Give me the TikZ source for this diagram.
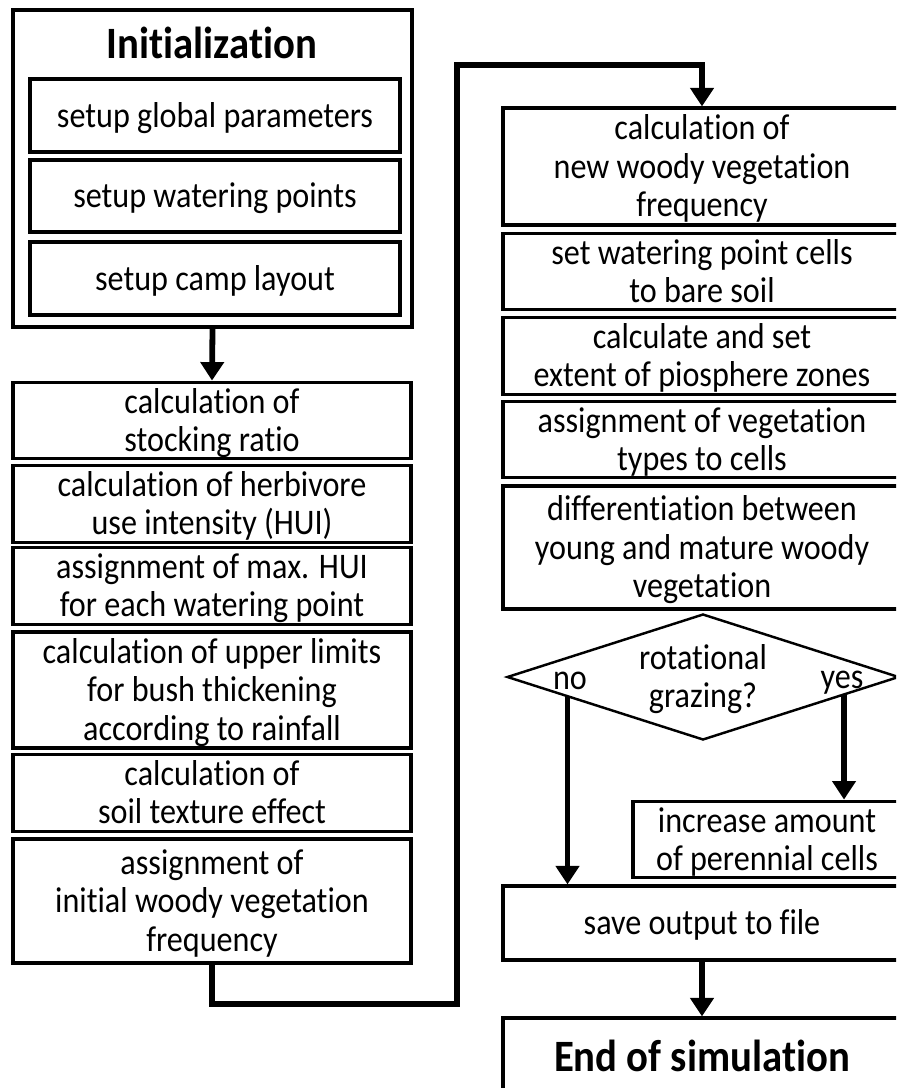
\documentclass[tikz,border=0pt]{standalone}
\usepackage{fontspec}
\usepackage{graphicx}
\setmainfont{Carlito}[Ligatures=NoCommon]
\usetikzlibrary{arrows.meta,shapes.geometric,calc}
\newlength\upx
\setlength\upx{0.02cm}
\newcommand\tx[1]{\raisebox{-2.3pt}[\height][\depth]{\scalebox{1}[1.12]{\begin{tabular}{@{}c@{}}#1\end{tabular}}}}
\tikzset{
  box/.style={draw=black, line width=1.8pt, fill=white, align=center, inner sep=0pt,
    minimum width=398\upx, font=\fontsize{18.3}{19.5}\selectfont},
  outer/.style={draw=black, line width=2.1pt, inner sep=0pt},
  title/.style={inner sep=0pt, font=\fontsize{23.2}{27}\selectfont\bfseries},
  lbl/.style={inner sep=0pt, font=\fontsize{18.3}{19.5}\selectfont},
  conn/.style={line width=3.3pt, -{Triangle[length=10.5pt,width=13pt]}},
  loopline/.style={line width=3.3pt, line join=miter, -{Triangle[length=10.5pt,width=13pt]}},
}
\begin{document}
\begin{tikzpicture}[x=0.02cm, y=-0.02cm]
\path[use as bounding box, clip] (0,0) rectangle (896,1088);
\fill[white] (0,0) rectangle (896,1088);
% Initialization block
\node[outer, minimum width=399\upx, minimum height=317\upx] (init) at (212.5,168.5) {};
\node[title] (inittitle) at (212,43) {\scalebox{1}[1.1]{Initialization}};
\node[box, minimum width=370\upx, minimum height=73\upx] (s1) at (215,115.5) {\tx{setup global parameters}};
\node[box, minimum width=370\upx, minimum height=72\upx] (s2) at (215,196) {\tx{setup watering points}};
\node[box, minimum width=370\upx, minimum height=73\upx] (s3) at (215,278.5) {\tx{setup camp layout}};
% left column
\node[box, minimum height=75\upx] (l1) at (212,420.5) {\tx{calculation of\\stocking ratio}};
\node[box, minimum height=74\upx] (l2) at (212,504) {\tx{calculation of herbivore\\use intensity (HUI)}};
\node[box, minimum height=74\upx] (l3) at (212,586) {\tx{assignment of max. HUI\\for each watering point}};
\node[box, minimum height=116\upx] (l4) at (212,690) {\tx{calculation of upper limits\\for bush thickening\\according to rainfall}};
\node[box, minimum height=74\upx] (l5) at (212,793) {\tx{calculation of\\soil texture effect}};
\node[box, minimum height=124\upx] (l6) at (212,901) {\tx{assignment of\\initial woody vegetation\\frequency}};
% right column
\node[box, minimum height=117\upx] (r1) at (702,166.5) {\tx{calculation of\\new woody vegetation\\frequency}};
\node[box, minimum height=73\upx] (r2) at (702,271.5) {\tx{set watering point cells\\to bare soil}};
\node[box, minimum height=72\upx] (r3) at (702,356) {\tx{calculate and set\\extent of piosphere zones}};
\node[box, minimum height=73\upx] (r4) at (702,439.5) {\tx{assignment of vegetation\\types to cells}};
\node[box, minimum height=123\upx] (r5) at (702,547.5) {\tx{differentiation between\\young and mature woody\\vegetation}};
\node[diamond, aspect=3.11, draw=black, line width=1.4pt, align=center, inner sep=0pt,
  minimum width=392\upx, minimum height=126\upx, font=\fontsize{18.3}{19.5}\selectfont] (dia) at (703,677) {\tx{rotational\\grazing?}};
\node[lbl] (no) at (570,678) {\tx{no}};
\node[lbl] (yes) at (842,677) {\tx{yes}};
\node[box, minimum width=268\upx, minimum height=75\upx] (inc) at (767,839.5) {\tx{increase amount\\of perennial cells}};
\node[box, minimum height=74\upx] (save) at (702,923) {\tx{save output to file}};
\node[box, minimum height=76\upx] (end) at (702,1056) {\fontsize{23.2}{27}\selectfont\bfseries\scalebox{1}[1.1]{End of simulation}};
% connectors
\draw[conn] (init.south) -- (l1.north);
\coordinate (c1) at (457,1004);
\coordinate (c2) at (457,65);
\draw[loopline] (l6.south) |- (c1) -- (c2) -| (r1.north);
\coordinate (nostart) at ($(dia.west)!0.313!(dia.south)$);
\coordinate (yesstart) at ($(dia.east)!0.285!(dia.south)$);
\draw[conn] (nostart) -- (nostart |- save.north);
\draw[conn] (yesstart) -- (yesstart |- inc.north);
\draw[conn] (save.south) -- (end.north);
\end{tikzpicture}
\end{document}
